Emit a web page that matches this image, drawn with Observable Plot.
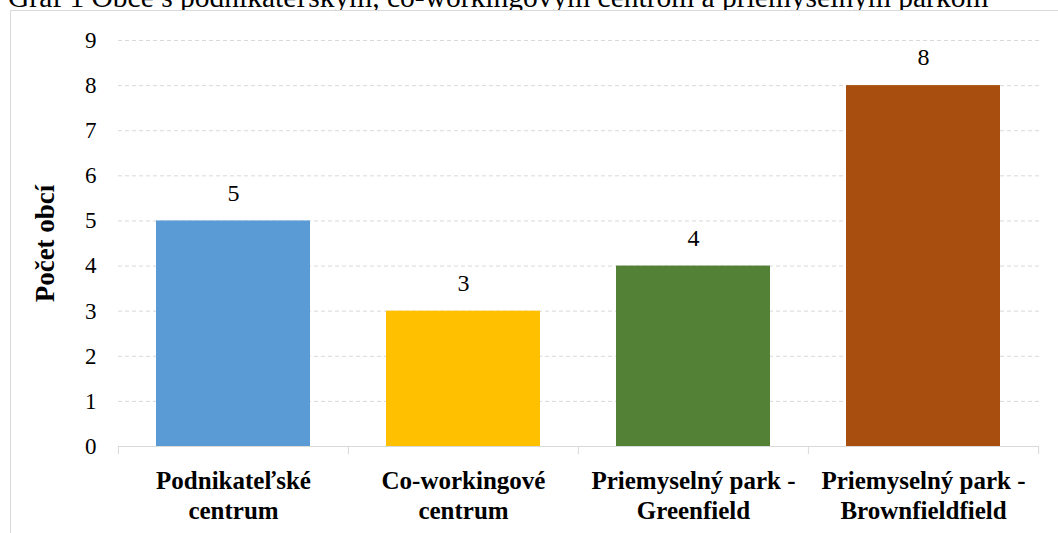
<!DOCTYPE html>
<html>
<head>
<meta charset="utf-8">
<script src="https://cdn.jsdelivr.net/npm/d3@7"></script>
<script src="https://cdn.jsdelivr.net/npm/@observablehq/plot@0.6"></script>
<style>
  html, body { margin: 0; padding: 0; background: #fff; overflow: hidden; }
  body { width: 1058px; height: 533px; position: relative; font-family: "Liberation Serif", "Times New Roman", serif; }
  #title { position: absolute; left: 8px; top: -17px; font-size: 29.5px; line-height: 29.5px; white-space: nowrap; color: #000; z-index: 1; }
  #frame { position: absolute; left: 10px; top: 10px; width: 1100px; height: 600px; border-left: 1px solid #d9d9d9; border-top: 1px solid #d9d9d9; background: #fff; z-index: 2; }
  #chart { position: absolute; left: 0; top: 0; z-index: 3; }
</style>
</head>
<body>
<div id="title">Graf 1 Obce s podnikateľským, co-workingovým centrom a priemyselným parkom</div>
<div id="frame"></div>
<div id="chart"></div>
<script>
const categories = ["Podnikateľské\ncentrum", "Co-workingové\ncentrum", "Priemyselný park -\nGreenfield", "Priemyselný park -\nBrownfieldfield"];
const values = [5, 3, 4, 8];
const colors = ["#5B9BD5", "#FFC000", "#538135", "#A84E0E"];
const yTicks = [0, 1, 2, 3, 4, 5, 6, 7, 8, 9];
const yLabel = "Počet obcí";

const data = categories.map((c, i) => ({category: c, value: values[i], color: colors[i]}));

const W = 1058, H = 533;
const mL = 118, mR = 19, mT = 40, mB = 87;
const step = (W - mL - mR) / categories.length;

const plot = Plot.plot({
  width: W,
  height: H,
  marginLeft: mL,
  marginRight: mR,
  marginTop: mT,
  marginBottom: mB,
  style: {fontFamily: "'Liberation Serif', 'Times New Roman', serif", fontSize: "23px", color: "#000", background: "transparent", overflow: "visible"},
  x: {domain: categories, paddingInner: 0.33, paddingOuter: 0.165, axis: null},
  y: {domain: [0, 9], ticks: yTicks, tickSize: 0, tickPadding: 22, label: null, tickFormat: d => String(d)},
  marks: [
    Plot.gridY(yTicks.filter(d => d > 0), {stroke: "#d9d9d9", strokeOpacity: 1, strokeDasharray: "4,3"}),
    Plot.barY(data, {x: "category", y: "value", fill: "color"}),
    Plot.ruleY([0], {stroke: "#d9d9d9", strokeWidth: 1}),
    Plot.ruleX(categories, {x: d => d, dx: -step / 2, y1: 0, y2: -0.18, stroke: "#d9d9d9"}),
    Plot.ruleX([categories[categories.length - 1]], {x: d => d, dx: step / 2, y1: 0, y2: -0.18, stroke: "#d9d9d9"}),
    Plot.text(data, {x: "category", y: "value", text: d => String(d.value), dy: -28, fontSize: 24, fill: "#000"}),
    Plot.text(categories, {x: d => d, text: d => d, frameAnchor: "bottom", lineAnchor: "top", dy: 22, lineHeight: 1.17, fontWeight: "bold", fontSize: 25, fill: "#000"}),
    Plot.text([yLabel], {text: d => d, frameAnchor: "left", textAnchor: "middle", rotate: -90, dx: -73, fontWeight: "bold", fontSize: 27, fill: "#000"})
  ]
});
document.getElementById("chart").appendChild(plot);
</script>
</body>
</html>
